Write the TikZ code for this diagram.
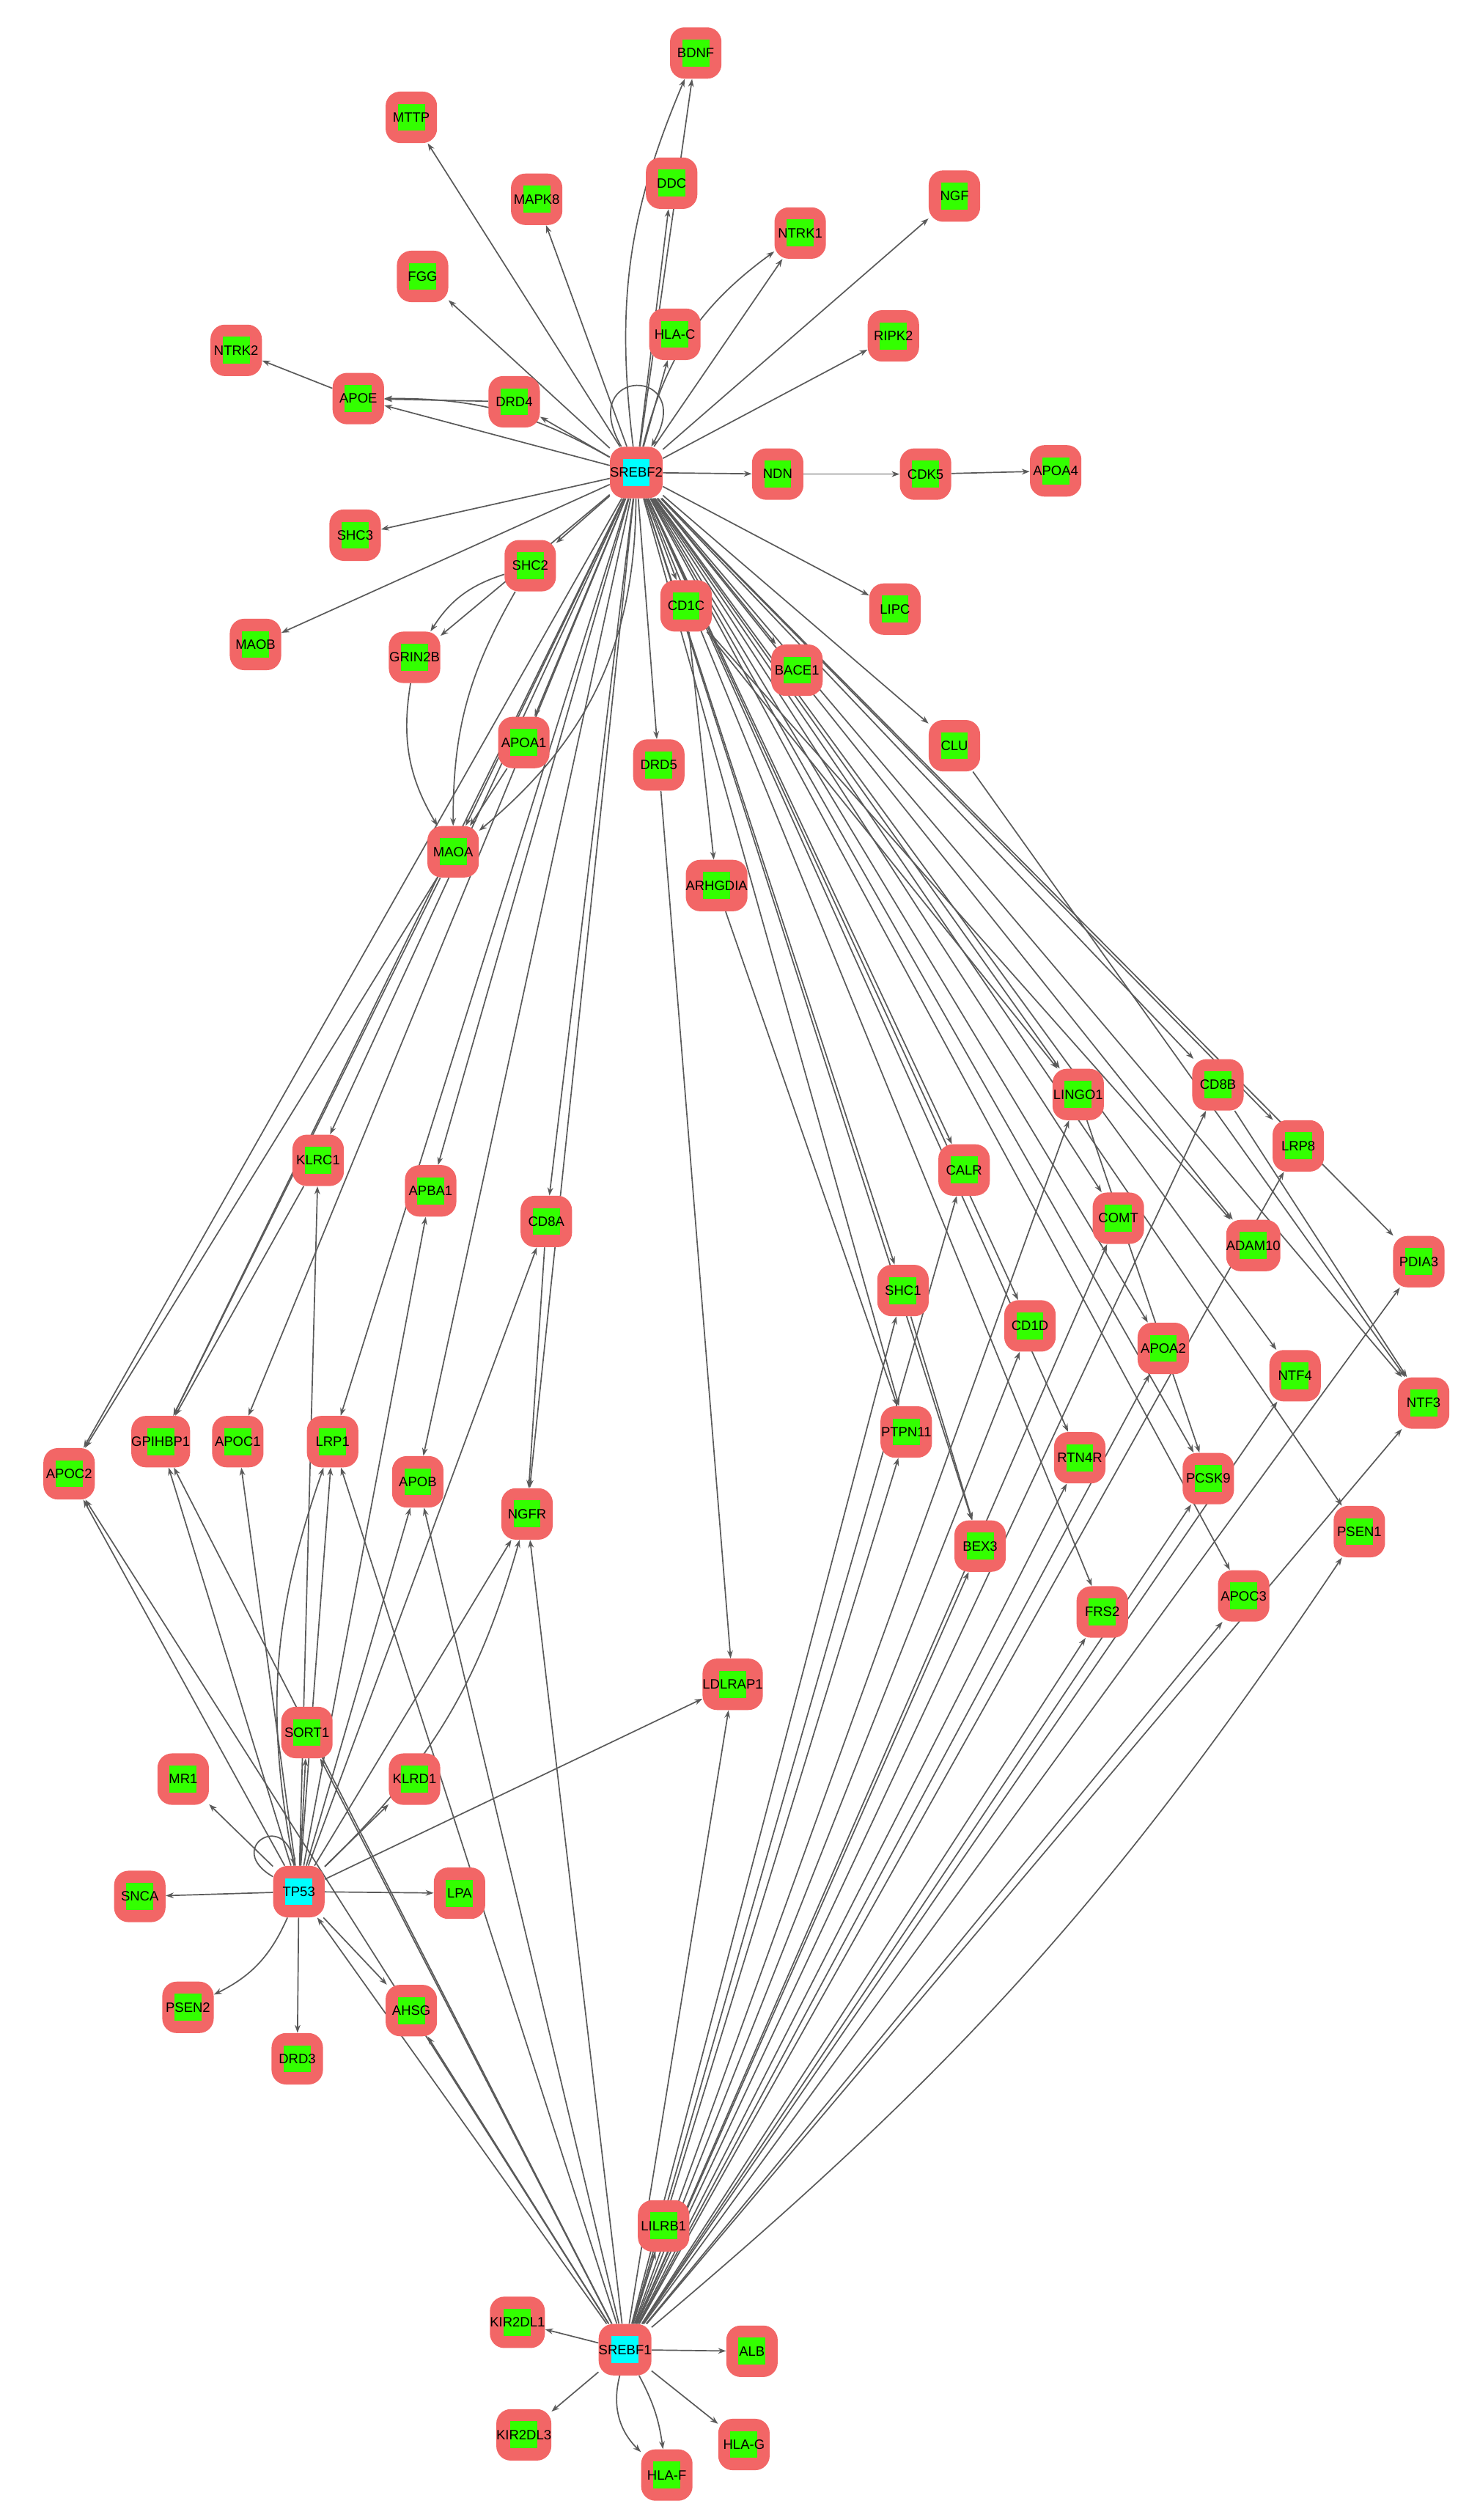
\documentclass[tikz,border=0pt]{standalone}
\usepackage{fontspec}
\setmainfont{Liberation Sans}
\usetikzlibrary{arrows.meta,backgrounds}
\definecolor{nodered}{HTML}{F26666}
\definecolor{nodegreen}{HTML}{33FF00}
\definecolor{hubcyan}{HTML}{00FFFF}
\definecolor{edgegray}{HTML}{5A5A5A}
\tikzset{
	gene/.style={fill=nodered, rounded corners=0.45cm, minimum size=1.6cm, inner sep=0pt,
		font=\fontsize{12}{12}\selectfont,
		path picture={\fill[#1, sharp corners] ([shift={(-0.42cm,-0.42cm)}]path picture bounding box.center) rectangle ++(0.84cm,0.84cm);}},
	gene/.default=nodegreen,
	hub/.style={gene=hubcyan},
	edge/.style={draw=edgegray, line width=1.1pt, -{Stealth[length=7pt,width=5pt]}}
}
\begin{document}
\begin{tikzpicture}[x=0.05cm,y=-0.05cm]
	\useasboundingbox (0,0) rectangle (921,1568);
	% hubs
	\node[hub] (SREBF2) at (396,294) {SREBF2};
	\node[hub] (TP53) at (186,1177) {TP53};
	\node[hub] (SREBF1) at (389,1462) {SREBF1};
	% genes
	\foreach \n/\x/\y in {BDNF/433/33, MTTP/256/73, MAPK8/334/124, DDC/418/114, NTRK1/498/145,
		NGF/594/122, FGG/263/172, HLA-C/420/208, RIPK2/556/209, NTRK2/147/218, APOE/223/248,
		DRD4/320/250, NDN/484/295, CDK5/576/295, APOA4/657/293, SHC3/221/333, SHC2/330/352,
		CD1C/427/377, LIPC/557/379, MAOB/159/401, GRIN2B/258/409, BACE1/496/417, CLU/594/464,
		APOA1/326/462, DRD5/410/476, MAOA/282/530, ARHGDIA/446/551, LINGO1/671/681, CD8B/758/675,
		LRP8/808/713, KLRC1/198/722, APBA1/268/741, CALR/600/728, CD8A/340/760, COMT/696/758,
		ADAM10/780/775, PDIA3/883/785, SHC1/562/803, CD1D/641/825, APOA2/724/839, NTF4/806/856,
		NTF3/886/873, APOC2/43/917, GPIHBP1/100/897, APOC1/148/897, LRP1/207/897, APOB/260/922,
		NGFR/328/942, PTPN11/564/891, RTN4R/672/907, PCSK9/752/920, PSEN1/846/953, BEX3/610/962,
		FRS2/686/1003, APOC3/774/993, LDLRAP1/456/1048, SORT1/191/1078, MR1/114/1107,
		KLRD1/258/1107, SNCA/87/1180, LPA/286/1178, PSEN2/117/1249, AHSG/256/1251, DRD3/185/1281,
		LILRB1/413/1385, KIR2DL1/322/1445, ALB/468/1463, KIR2DL3/326/1515, HLA-G/463/1521,
		HLA-F/415/1540}
		\node[gene] (\n) at (\x,\y) {\n};
	\begin{scope}[on background layer]
	% edges from SREBF2
	\foreach \t in {BDNF, MTTP, MAPK8, DDC, NTRK1, NGF, FGG, HLA-C, RIPK2, APOE, DRD4, NDN,
		SHC3, SHC2, CD1C, LIPC, MAOB, GRIN2B, BACE1, CLU, APOA1, DRD5, MAOA, LINGO1, CD8B, LRP8,
		KLRC1, APBA1, CALR, CD8A, COMT, ADAM10, PDIA3, SHC1, CD1D, APOA2, NTF4, NTF3, APOC2,
		GPIHBP1, APOC1, LRP1, APOB, NGFR, PTPN11, RTN4R, PCSK9, PSEN1, BEX3, FRS2, APOC3}
		\draw[edge] (SREBF2) -- (\t);
	\draw[edge] (SREBF2) to[bend left=15] (BDNF);
	\draw[edge] (SREBF2) to[bend left=20] (NTRK1);
	\draw[edge] (SREBF2) to[bend right=15] (APOE);
	\draw[edge] (SREBF2) to[bend left=25] (MAOA);
	\draw[edge] (SREBF2) to[out=120,in=60,looseness=8] (SREBF2);
	% edges from TP53
	\foreach \t in {APOC2, GPIHBP1, APOC1, LRP1, APOB, NGFR, SORT1, MR1, KLRD1, SNCA, LPA,
		AHSG, DRD3, KLRC1, APBA1, LDLRAP1, CD8A}
		\draw[edge] (TP53) -- (\t);
	\draw[edge] (TP53) to[bend left=20] (PSEN2);
	\draw[edge] (TP53) to[bend left=15] (LRP1);
	\draw[edge] (TP53) to[bend right=15] (NGFR);
	\draw[edge] (TP53) to[out=150,in=100,looseness=6] (TP53);
	% edges from SREBF1
	\foreach \t in {KIR2DL1, ALB, KIR2DL3, HLA-G, LILRB1, TP53, LINGO1, CD8B, CALR, CD1D,
		PTPN11, RTN4R, PCSK9, BEX3, FRS2, APOC3, NTF4, PDIA3, NTF3, APOA2, COMT, LRP8, NGFR,
		LDLRAP1, SHC1, APOB, LRP1, APOC2, GPIHBP1, AHSG, SORT1}
		\draw[edge] (SREBF1) -- (\t);
	\draw[edge] (SREBF1) to[bend right=30] (HLA-F);
	\draw[edge] (SREBF1) to[bend left=10] (HLA-F);
	\draw[edge] (SREBF1) to[bend right=8] (PSEN1);
	% other edges
	\draw[edge] (APOE) -- (NTRK2);
	\draw[edge] (NDN) -- (CDK5);
	\draw[edge] (CDK5) -- (APOA4);
	\draw[edge] (DRD4) -- (APOE);
	\draw[edge] (SHC2) to[bend right=20] (GRIN2B);
	\draw[edge] (SHC2) to[bend right=15] (MAOA);
	\draw[edge] (GRIN2B) to[bend right=20] (MAOA);
	\draw[edge] (APOA1) -- (MAOA);
	\draw[edge] (DRD5) -- (LDLRAP1);
	\draw[edge] (ARHGDIA) -- (PTPN11);
	\draw[edge] (SHC1) -- (BEX3);
	\draw[edge] (CD8A) -- (NGFR);
	\draw[edge] (KLRC1) -- (GPIHBP1);
	\draw[edge] (MAOA) -- (APOC2);
	\draw[edge] (MAOA) -- (GPIHBP1);
	\draw[edge] (CD1C) -- (ARHGDIA);
	\draw[edge] (CD1C) -- (LINGO1);
	\draw[edge] (CD1C) -- (ADAM10);
	\draw[edge] (CLU) -- (NTF3);
	\draw[edge] (CD8B) -- (NTF3);
	\draw[edge] (LINGO1) -- (PCSK9);
	\end{scope}
\end{tikzpicture}
\end{document}
